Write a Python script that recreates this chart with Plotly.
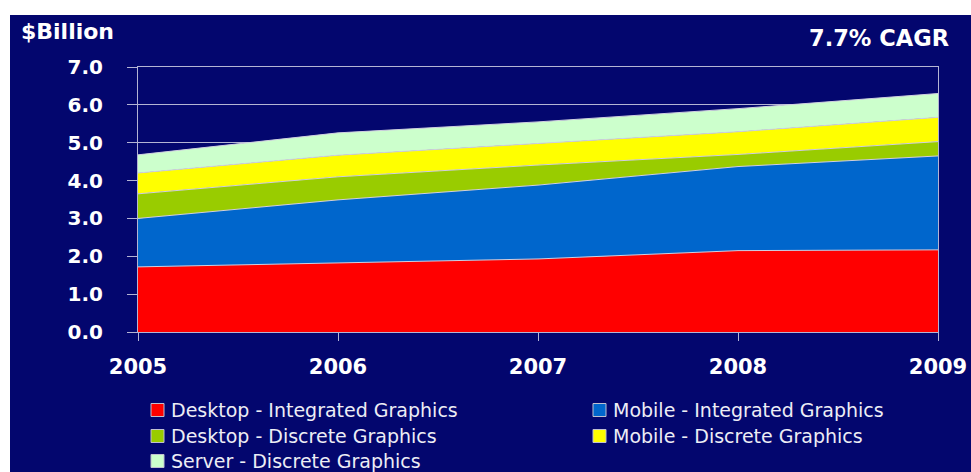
import plotly.graph_objects as go

years = [2005, 2006, 2007, 2008, 2009]
desktop_integrated = [1.72, 1.82, 1.93, 2.15, 2.17]
mobile_integrated = [1.28, 1.67, 1.95, 2.22, 2.48]
desktop_discrete = [0.65, 0.61, 0.53, 0.32, 0.38]
mobile_discrete = [0.55, 0.57, 0.57, 0.60, 0.64]
server_discrete = [0.48, 0.59, 0.57, 0.61, 0.63]

y_ticks = [0, 1, 2, 3, 4, 5, 6, 7]
y_tick_labels = ["0.0", "1.0", "2.0", "3.0", "4.0", "5.0", "6.0", "7.0"]

series = [
    ("Desktop - Integrated Graphics", desktop_integrated, "#FF0000"),
    ("Mobile - Integrated Graphics", mobile_integrated, "#0066CC"),
    ("Desktop - Discrete Graphics", desktop_discrete, "#99CC00"),
    ("Mobile - Discrete Graphics", mobile_discrete, "#FFFF00"),
    ("Server - Discrete Graphics", server_discrete, "#CCFFCC"),
]

NAVY = "#03066E"
GRID = "#B4B4D4"
FONT = "DejaVu Sans, Liberation Sans, Arial, sans-serif"

fig = go.Figure()
for name, vals, col in series:
    fig.add_trace(go.Scatter(
        x=years, y=vals, name=name, mode="lines",
        stackgroup="one", fillcolor=col,
        line=dict(color="#D0D0E0", width=1),
        showlegend=False, hoverinfo="x+y+name",
    ))

W, H = 971, 472
L, R, T, B = 138, 33, 67, 140
pw, ph = W - L - R, H - T - B


def px(x):
    return (x - L) / pw


def py(y):
    return (H - B - y) / ph


shapes = [
    dict(type="rect", xref="paper", yref="paper", x0=px(-5), x1=px(W + 5),
         y0=py(0 - 5), y1=py(15), fillcolor="white", line=dict(width=0), layer="above"),
    dict(type="rect", xref="paper", yref="paper", x0=px(-5), x1=px(10),
         y0=py(-5), y1=py(H + 5), fillcolor="white", line=dict(width=0), layer="above"),
]

annotations = [
    dict(text="<b>$Billion</b>", xref="paper", yref="paper", x=px(19), y=py(31),
         xanchor="left", yanchor="middle", showarrow=False,
         font=dict(family=FONT, size=22, color="white")),
    dict(text="<b>7.7% CAGR</b>", xref="paper", yref="paper", x=px(951), y=py(38),
         xanchor="right", yanchor="middle", showarrow=False,
         font=dict(family=FONT, size=22.5, color="white")),
]

legend_pos = [(151, 410), (593, 410), (151, 436), (593, 436), (151, 461)]
for (name, vals, col), (lx, ly) in zip(series, legend_pos):
    shapes.append(dict(type="rect", xref="paper", yref="paper",
                       x0=px(lx), x1=px(lx + 13), y0=py(ly + 6.5), y1=py(ly - 6.5),
                       fillcolor=col, line=dict(color="#C0C0D0", width=1), layer="above"))
    annotations.append(dict(text=name, xref="paper", yref="paper", x=px(lx + 18), y=py(ly),
                            xanchor="left", yanchor="middle", showarrow=False,
                            font=dict(family=FONT, size=19, color="#EDEDF5")))

fig.update_layout(
    width=W, height=H,
    margin=dict(l=L, r=R, t=T, b=B, pad=0, autoexpand=False),
    paper_bgcolor=NAVY, plot_bgcolor=NAVY,
    shapes=shapes, annotations=annotations,
    xaxis=dict(range=[2005, 2009], tickvals=years, ticktext=[str(y) for y in years],
               showgrid=False, zeroline=False, showline=True, mirror=True,
               linecolor=GRID, linewidth=1, ticks="outside", ticklen=8, tickcolor=GRID,
               tickfont=dict(family=FONT, size=21, color="white", weight="bold"),
               ticklabelstandoff=8, automargin=False),
    yaxis=dict(range=[0, 7], tickvals=y_ticks, ticktext=y_tick_labels,
               showgrid=True, gridcolor=GRID, gridwidth=1, zeroline=False,
               showline=True, mirror=True, linecolor=GRID, linewidth=1,
               ticks="outside", ticklen=10, tickcolor=GRID,
               tickfont=dict(family=FONT, size=20, color="white", weight="bold"),
               ticklabelstandoff=20, automargin=False),
    showlegend=False,
)

fig.write_html("out.html")
